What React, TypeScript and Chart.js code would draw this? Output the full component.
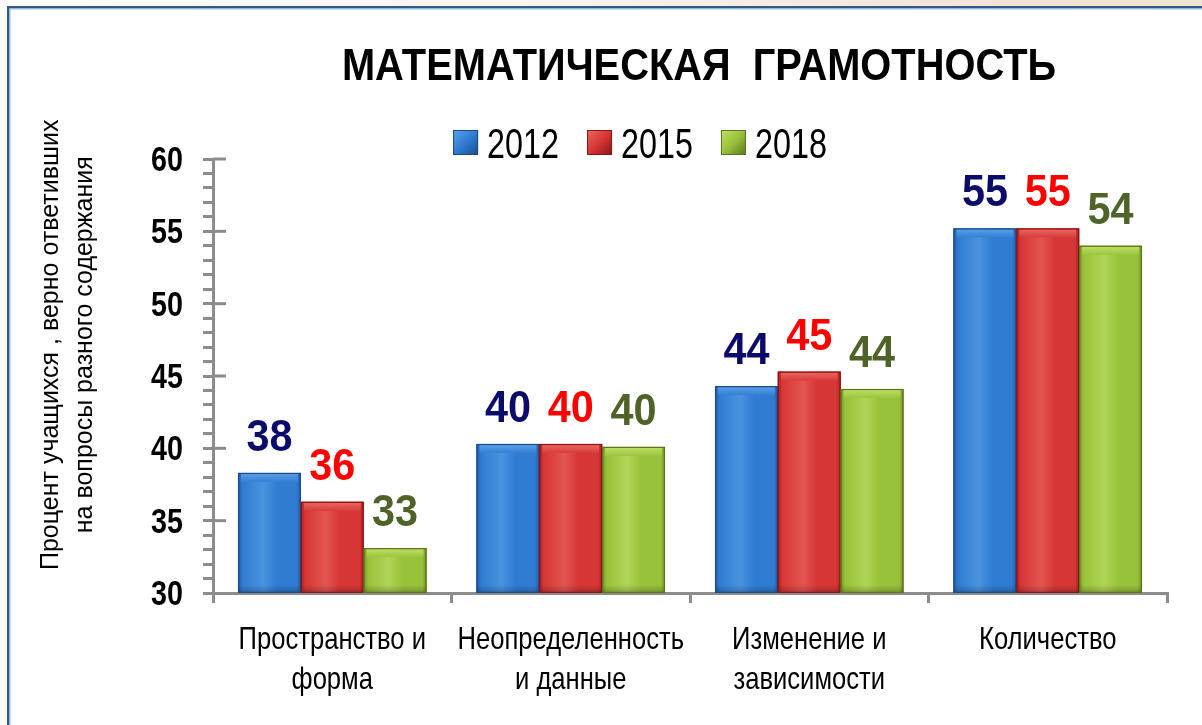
import React, { useEffect, useRef } from 'react';
import { Chart, registerables } from 'chart.js';

Chart.register(...registerables);

// ---------- data ----------
const categories: string[][] = [
  ['Пространство и', 'форма'],
  ['Неопределенность', 'и данные'],
  ['Изменение и', 'зависимости'],
  ['Количество'],
];
const seriesNames = ['2012', '2015', '2018'];
const values2012 = [38.3, 40.3, 44.3, 55.2];
const values2015 = [36.3, 40.3, 45.3, 55.2];
const values2018 = [33.1, 40.1, 44.1, 54.0];
const yMin = 30;
const yMax = 60;
const yMajorStep = 5;
const chartTitle = 'МАТЕМАТИЧЕСКАЯ  ГРАМОТНОСТЬ';
const yAxisTitle = ['Процент учащихся , верно ответивших', 'на вопросы разного содержания'];

// ---------- styles ----------
const SANS = '"Liberation Sans", Arial, sans-serif';
const AXIS_GRAY = '#8c8c8c';
const palette = [
  { base: '#2f7cd3', dark: '#1b4a8a', light: '#5ea2e8', label: '#0b0b6b' },
  { base: '#d63636', dark: '#8a1414', light: '#ec6a62', label: '#ff0000' },
  { base: '#98c23a', dark: '#5a761c', light: '#c2e06a', label: '#4f6228' },
];

// draw horizontally condensed text (no narrow font installed)
function condensedText(ctx: any, text: string, x: number, y: number, font: string, sx: number, align: string, baseline: string, color: string) {
  ctx.save();
  ctx.font = font;
  ctx.fillStyle = color;
  ctx.textAlign = align;
  ctx.textBaseline = baseline;
  ctx.translate(x, y);
  ctx.scale(sx, 1);
  ctx.fillText(text, 0, 0);
  ctx.restore();
}

const framePlugin = {
  id: 'frame',
  beforeDraw(chart: any) {
    const { ctx, width, height } = chart;
    ctx.save();
    ctx.fillStyle = '#ffffff';
    ctx.fillRect(0, 0, width, height);
    const g = ctx.createLinearGradient(0, 0, width, 0);
    g.addColorStop(0, '#fdfbf9');
    g.addColorStop(0.45, '#fbf4ee');
    g.addColorStop(0.85, '#f4e2d4');
    g.addColorStop(1, '#f1e4d2');
    ctx.fillStyle = g;
    ctx.fillRect(0, 0, width, 7);
    ctx.fillStyle = '#2c5a8a';
    ctx.fillRect(7, 6, width - 7, 2.5);
    ctx.fillRect(7, 6, 2.5, height - 6);
    ctx.fillStyle = '#9fbde0';
    ctx.fillRect(9.5, 8.5, width - 9.5, 1);
    ctx.fillRect(9.5, 8.5, 1, height - 8.5);
    ctx.restore();
  },
};

const headerPlugin = {
  id: 'header',
  afterDraw(chart: any) {
    const { ctx } = chart;
    // title
    condensedText(ctx, chartTitle, 699, 80, `bold 45px ${SANS}`, 0.885, 'center', 'alphabetic', '#000000');
    // legend
    ctx.save();
    const legendFont = `42px ${SANS}`;
    const sx = 0.77;
    ctx.font = legendFont;
    const box = 25;
    const gap = 9;
    const spacing = 28;
    const items = chart.data.datasets.map((ds: any) => ({ label: ds.label, w: ctx.measureText(ds.label).width * sx }));
    const total = items.reduce((s: number, it: any) => s + box + gap + it.w, 0) + spacing * (items.length - 1);
    let x = 640 - total / 2;
    items.forEach((it: any, i: number) => {
      const p = palette[i];
      const top = 130;
      const g = ctx.createLinearGradient(x, top, x + box, top + box);
      g.addColorStop(0, p.light);
      g.addColorStop(0.5, p.base);
      g.addColorStop(1, p.dark);
      ctx.fillStyle = g;
      ctx.fillRect(x, top, box, box);
      ctx.strokeStyle = p.dark;
      ctx.lineWidth = 1;
      ctx.strokeRect(x + 0.5, top + 0.5, box - 1, box - 1);
      condensedText(ctx, it.label, x + box + gap, 158, legendFont, sx, 'left', 'alphabetic', '#000000');
      x += box + gap + it.w + spacing;
    });
    ctx.restore();
  },
};

const axisLabelPlugin = {
  id: 'axisLabels',
  afterDraw(chart: any) {
    const { ctx } = chart;
    const xs = chart.scales.x;
    const ys = chart.scales.y;
    // y tick labels (major only)
    ys.ticks.forEach((t: any) => {
      if (t.value % yMajorStep !== 0) return;
      const py = ys.getPixelForValue(t.value);
      condensedText(ctx, String(t.value), ys.right - 30, py + 12, `bold 35px ${SANS}`, 0.82, 'right', 'alphabetic', '#000000');
    });
    // x category labels
    chart.data.labels.forEach((lab: any, i: number) => {
      const px = xs.getPixelForTick(i);
      const lines = Array.isArray(lab) ? lab : [lab];
      lines.forEach((ln: string, li: number) => {
        condensedText(ctx, ln, px, 649 + li * 40, `32px ${SANS}`, 0.8, 'center', 'alphabetic', '#000000');
      });
    });
  },
};

const bevelPlugin = {
  id: 'bevel',
  afterDatasetsDraw(chart: any) {
    const { ctx, chartArea } = chart;
    ctx.save();
    ctx.beginPath();
    ctx.rect(chartArea.left, chartArea.top, chartArea.right - chartArea.left, chartArea.bottom - chartArea.top);
    ctx.clip();
    chart.data.datasets.forEach((ds: any, di: number) => {
      const meta = chart.getDatasetMeta(di);
      const p = palette[di];
      meta.data.forEach((el: any) => {
        const props = el.getProps(['x', 'y', 'base', 'width'], true);
        const { x, y, width } = props;
        const base = Math.min(props.base, chartArea.bottom);
        const left = x - width / 2;
        const h = base - y;
        const g = ctx.createLinearGradient(left, 0, left + width, 0);
        g.addColorStop(0, p.dark);
        g.addColorStop(0.07, p.base);
        g.addColorStop(0.4, p.light);
        g.addColorStop(0.62, p.base);
        g.addColorStop(0.93, p.base);
        g.addColorStop(1, p.dark);
        ctx.fillStyle = g;
        ctx.fillRect(left, y, width, h);
        ctx.globalAlpha = 0.4;
        ctx.fillStyle = p.base;
        ctx.fillRect(left, y, width, h);
        ctx.globalAlpha = 1;
        // top bevel
        const tg = ctx.createLinearGradient(0, y, 0, y + 10);
        tg.addColorStop(0, p.light);
        tg.addColorStop(1, p.base);
        ctx.fillStyle = tg;
        ctx.fillRect(left + 3, y + 1, width - 6, 8);
        // bottom shade
        const bg = ctx.createLinearGradient(0, base - 8, 0, base);
        bg.addColorStop(0, 'rgba(0,0,0,0)');
        bg.addColorStop(1, 'rgba(0,0,0,0.25)');
        ctx.fillStyle = bg;
        ctx.fillRect(left, base - 8, width, 8);
        ctx.strokeStyle = p.dark;
        ctx.lineWidth = 1.2;
        ctx.strokeRect(left + 0.5, y + 0.5, width - 1, h - 1);
      });
    });
    ctx.restore();
  },
};

const dataLabelPlugin = {
  id: 'dataLabels',
  afterDatasetsDraw(chart: any) {
    const { ctx } = chart;
    chart.data.datasets.forEach((ds: any, di: number) => {
      const meta = chart.getDatasetMeta(di);
      meta.data.forEach((el: any, i: number) => {
        const { x, y } = el.getProps(['x', 'y'], true);
        condensedText(ctx, String(Math.round(ds.data[i])), x, y - 22, `bold 45px ${SANS}`, 0.92, 'center', 'alphabetic', palette[di].label);
      });
    });
  },
};

const majorTickPlugin = {
  id: 'majorTicks',
  afterDraw(chart: any) {
    const { ctx, chartArea } = chart;
    const scale = chart.scales.y;
    ctx.save();
    ctx.strokeStyle = AXIS_GRAY;
    ctx.lineWidth = 3;
    for (let v = yMin + yMajorStep; v <= yMax; v += yMajorStep) {
      const py = scale.getPixelForValue(v);
      ctx.beginPath();
      ctx.moveTo(chartArea.left, py);
      ctx.lineTo(chartArea.left + 13, py);
      ctx.stroke();
    }
    ctx.restore();
  },
};

export default function App() {
  const ref = useRef<HTMLCanvasElement | null>(null);
  useEffect(() => {
    document.body.style.margin = '0';
    const canvas = ref.current;
    if (!canvas) return;
    const datasets = [values2012, values2015, values2018].map((vals, i) => ({
      label: seriesNames[i],
      data: vals,
      backgroundColor: palette[i].base,
      borderColor: palette[i].dark,
      borderWidth: 0,
      categoryPercentage: 0.79,
      barPercentage: 1.0,
    }));
    const chart = new Chart(canvas, {
      type: 'bar',
      data: { labels: categories, datasets },
      plugins: [framePlugin, bevelPlugin, dataLabelPlugin, majorTickPlugin, axisLabelPlugin, headerPlugin],
      options: {
        animation: false,
        responsive: false,
        devicePixelRatio: 1,
        layout: { padding: { top: 159, left: 20, right: 35, bottom: 0 } },
        plugins: {
          legend: { display: false },
          title: { display: false },
          tooltip: { enabled: false },
        },
        scales: {
          x: {
            afterFit: (s: any) => { s.height = 132; },
            grid: { offset: true, drawOnChartArea: false, drawTicks: true, tickLength: 10, lineWidth: 3, color: AXIS_GRAY },
            border: { display: true, color: AXIS_GRAY, width: 3 },
            ticks: { display: false, autoSkip: false },
          },
          y: {
            min: yMin,
            max: yMax,
            afterFit: (s: any) => { s.width = 193; },
            grid: { drawOnChartArea: false, drawTicks: true, tickLength: 10, lineWidth: 3, color: AXIS_GRAY },
            border: { display: true, color: AXIS_GRAY, width: 3 },
            ticks: {
              display: false,
              stepSize: 1,
              autoSkip: false,
              maxTicksLimit: 100,
            },
            title: {
              display: true,
              text: yAxisTitle.map((t) => '\u0020'.repeat(9) + t),
              color: '#000000',
              font: { family: SANS, size: 25, lineHeight: 1.36 },
              padding: { top: 14, bottom: 0 },
            },
          },
        },
      } as any,
    });
    return () => chart.destroy();
  }, []);
  return (
    <div style={{ width: 1202, height: 725, position: 'relative' }}>
      <canvas ref={ref} width={1202} height={725} style={{ display: 'block' }} />
    </div>
  );
}
